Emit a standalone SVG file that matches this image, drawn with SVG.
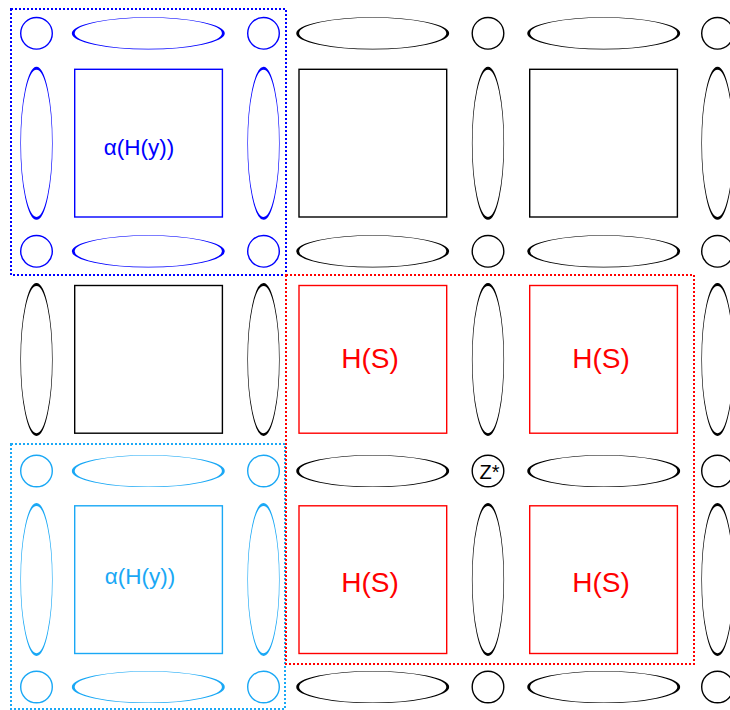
<svg xmlns="http://www.w3.org/2000/svg" xmlns:xlink="http://www.w3.org/1999/xlink" width="730" height="710" viewBox="0 0 730 710">
<style>
.k{stroke:#000}
.b{stroke:#0000ff}
.c{stroke:#1aa8f5}
.r{stroke:#ff0000}
.cir{fill:#fff;stroke-width:1.4}
.ell{fill:#fff;stroke-width:0.6}
.sq{fill:#fff;stroke-width:1.4}
.frame{fill:none;stroke-width:2;stroke-dasharray:2 2}
text{font-family:"Liberation Sans",Arial,sans-serif;text-anchor:middle}
.tb{fill:#0000ff;font-size:22.5px}
.tc{fill:#1aa8f5;font-size:22.5px}
.tr{fill:#ff0000;font-size:28px}
.tk{fill:#000;font-size:20px}
</style>
<defs>
<circle id="u" r="15.8"/>
</defs>
<rect width="730" height="710" fill="#fff"/>
<g id="frames">
<rect id="frame-blue" class="frame b" x="11" y="9" width="275" height="266"/>
<rect id="frame-cyan" class="frame c" x="11" y="444" width="274" height="265"/>
<rect id="frame-red" class="frame r" x="286" y="275" width="408" height="389"/>
</g>
<g id="connectors"/>
<!-- row 1 -->
<g id="c11"><circle class="cir b" cx="36.5" cy="33.3" r="15.8"/></g>
<g id="h11"><use href="#u" class="ell b" transform="translate(148.3,33.3) scale(4.75,1)"/></g>
<g id="c12"><circle class="cir b" cx="263.5" cy="33.3" r="15.8"/></g>
<g id="h12"><use href="#u" class="ell k" transform="translate(372.7,33.3) scale(4.75,1)"/></g>
<g id="c13"><circle class="cir k" cx="488" cy="33.3" r="15.8"/></g>
<g id="h13"><use href="#u" class="ell k" transform="translate(603.7,33.3) scale(4.75,1)"/></g>
<g id="c14"><circle class="cir k" cx="717.5" cy="33.3" r="15.8"/></g>
<!-- row 1 middle -->
<g id="v11"><use href="#u" class="ell b" transform="translate(36.5,143.3) scale(1,4.75)"/></g>
<g id="s11"><rect class="sq b" x="74.7" y="69.3" width="147.7" height="147.7"/><text class="tb" x="139" y="155">α(H(y))</text></g>
<g id="v12"><use href="#u" class="ell b" transform="translate(263.5,143.3) scale(1,4.75)"/></g>
<g id="s12"><rect class="sq k" x="299" y="69.3" width="147.7" height="147.7"/></g>
<g id="v13"><use href="#u" class="ell k" transform="translate(488,143.3) scale(1,4.75)"/></g>
<g id="s13"><rect class="sq k" x="529.7" y="69.3" width="147.7" height="147.7"/></g>
<g id="v14"><use href="#u" class="ell k" transform="translate(717.5,143.3) scale(1,4.75)"/></g>
<!-- row 2 -->
<g id="c21"><circle class="cir b" cx="36.5" cy="251.3" r="15.8"/></g>
<g id="h21"><use href="#u" class="ell b" transform="translate(148.3,251.3) scale(4.75,1)"/></g>
<g id="c22"><circle class="cir b" cx="263.5" cy="251.3" r="15.8"/></g>
<g id="h22"><use href="#u" class="ell k" transform="translate(372.7,251.3) scale(4.75,1)"/></g>
<g id="c23"><circle class="cir k" cx="488" cy="251.3" r="15.8"/></g>
<g id="h23"><use href="#u" class="ell k" transform="translate(603.7,251.3) scale(4.75,1)"/></g>
<g id="c24"><circle class="cir k" cx="717.5" cy="251.3" r="15.8"/></g>
<!-- row 2 middle -->
<g id="v21"><use href="#u" class="ell k" transform="translate(36.5,359.5) scale(1,4.75)"/></g>
<g id="s21"><rect class="sq k" x="74.7" y="285.5" width="147.7" height="147.7"/></g>
<g id="v22"><use href="#u" class="ell k" transform="translate(263.5,359.5) scale(1,4.75)"/></g>
<g id="s22"><rect class="sq r" x="299" y="285.5" width="147.7" height="147.7"/><text class="tr" x="370" y="368">H(S)</text></g>
<g id="v23"><use href="#u" class="ell k" transform="translate(488,359.5) scale(1,4.75)"/></g>
<g id="s23"><rect class="sq r" x="529.7" y="285.5" width="147.7" height="147.7"/><text class="tr" x="601" y="368">H(S)</text></g>
<g id="v24"><use href="#u" class="ell k" transform="translate(717.5,359.5) scale(1,4.75)"/></g>
<!-- row 3 -->
<g id="c31"><circle class="cir c" cx="36.5" cy="471" r="15.8"/></g>
<g id="h31"><use href="#u" class="ell c" transform="translate(148.3,471) scale(4.75,1)"/></g>
<g id="c32"><circle class="cir c" cx="263.5" cy="471" r="15.8"/></g>
<g id="h32"><use href="#u" class="ell k" transform="translate(372.7,471) scale(4.75,1)"/></g>
<g id="c33"><circle class="cir k" cx="488" cy="471" r="15.8"/><text class="tk" x="489.5" y="479">Z*</text></g>
<g id="h33"><use href="#u" class="ell k" transform="translate(603.7,471) scale(4.75,1)"/></g>
<g id="c34"><circle class="cir k" cx="717.5" cy="471" r="15.8"/></g>
<!-- row 3 middle -->
<g id="v31"><use href="#u" class="ell c" transform="translate(36.5,579.5) scale(1,4.75)"/></g>
<g id="s31"><rect class="sq c" x="74.7" y="505.8" width="147.7" height="147.7"/><text class="tc" x="140" y="584">α(H(y))</text></g>
<g id="v32"><use href="#u" class="ell c" transform="translate(263.5,579.5) scale(1,4.75)"/></g>
<g id="s32"><rect class="sq r" x="299" y="505.8" width="147.7" height="147.7"/><text class="tr" x="370" y="592">H(S)</text></g>
<g id="v33"><use href="#u" class="ell k" transform="translate(488,579.5) scale(1,4.75)"/></g>
<g id="s33"><rect class="sq r" x="529.7" y="505.8" width="147.7" height="147.7"/><text class="tr" x="601" y="592">H(S)</text></g>
<g id="v34"><use href="#u" class="ell k" transform="translate(717.5,579.5) scale(1,4.75)"/></g>
<!-- row 4 -->
<g id="c41"><circle class="cir c" cx="36.5" cy="687" r="15.8"/></g>
<g id="h41"><use href="#u" class="ell c" transform="translate(148.3,687) scale(4.75,1)"/></g>
<g id="c42"><circle class="cir c" cx="263.5" cy="687" r="15.8"/></g>
<g id="h42"><use href="#u" class="ell k" transform="translate(372.7,687) scale(4.75,1)"/></g>
<g id="c43"><circle class="cir k" cx="488" cy="687" r="15.8"/></g>
<g id="h43"><use href="#u" class="ell k" transform="translate(603.7,687) scale(4.75,1)"/></g>
<g id="c44"><circle class="cir k" cx="717.5" cy="687" r="15.8"/></g>
</svg>
